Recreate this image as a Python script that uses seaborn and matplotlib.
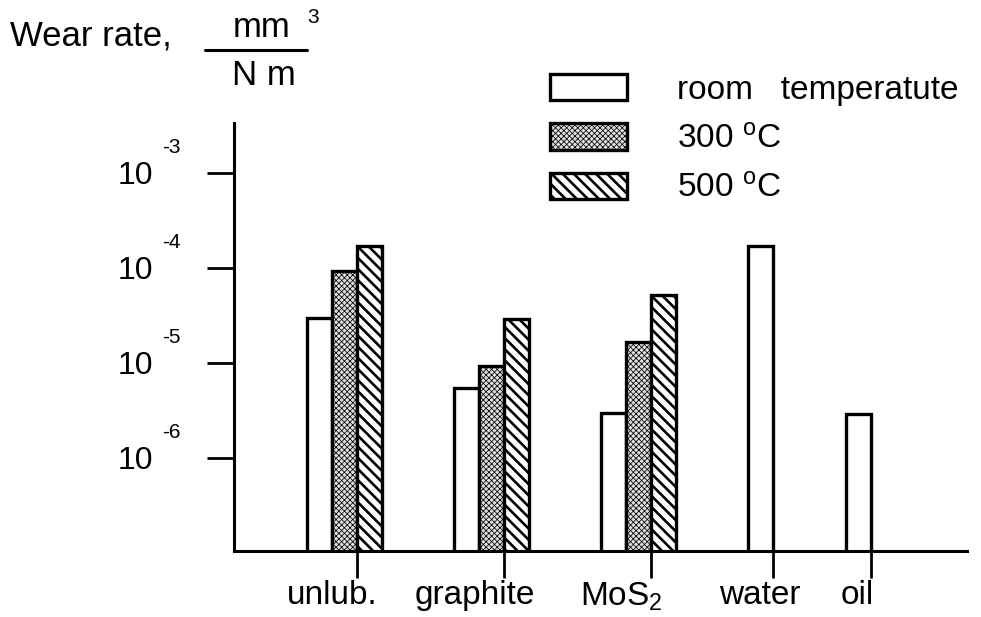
import numpy as np
import pandas as pd
import matplotlib
matplotlib.use("Agg")
import matplotlib.pyplot as plt
from matplotlib.lines import Line2D
from matplotlib.ticker import NullLocator, FixedLocator
import seaborn as sns

# ---------------- data ----------------
categories = ["unlub.", "graphite", "MoS$_2$", "water", "oil"]
temperatures = ["room   temperatute",
                "300 $^{\\mathregular{o}}$C",
                "500 $^{\\mathregular{o}}$C"]
rate_room = [3.0e-5, 5.4e-6, 3.0e-6, 1.7e-4, 2.9e-6]   # all five lubricants
rate_300 = [9.3e-5, 9.3e-6, 1.65e-5]                   # unlub., graphite, MoS2
rate_500 = [1.7e-4, 2.9e-5, 5.2e-5]                    # unlub., graphite, MoS2
ytick_exponents = [-3, -4, -5, -6]
ytick_labels = ["10", "10", "10", "10"]

# ---------------- layout (not data) ----------------
group_pos = [0, 3, 6, 9, 11]
tick_offset = [0.255, 0.255, 0.255, -0.255, -0.255]
label_offset = [-0.26, -0.34, -0.36, -0.53, -0.53]

rows = []
for i, v in enumerate(rate_room):
    rows.append(dict(pos=group_pos[i], temp=temperatures[0], rate=v))
for i, v in enumerate(rate_300):
    rows.append(dict(pos=group_pos[i], temp=temperatures[1], rate=v))
for i, v in enumerate(rate_500):
    rows.append(dict(pos=group_pos[i], temp=temperatures[2], rate=v))
df = pd.DataFrame(rows)

sns.set_style("ticks")
plt.rcParams["font.family"] = ["Liberation Sans", "DejaVu Sans"]
plt.rcParams["mathtext.fontset"] = "custom"
plt.rcParams["mathtext.rm"] = "Liberation Sans"
plt.rcParams["mathtext.it"] = "Liberation Sans:italic"
plt.rcParams["mathtext.bf"] = "Liberation Sans:bold"
plt.rcParams["hatch.linewidth"] = 1.6
plt.rcParams["hatch.color"] = "black"
for k in ["text.color", "axes.labelcolor", "xtick.color", "ytick.color",
          "axes.edgecolor", "xtick.labelcolor", "ytick.labelcolor"]:
    plt.rcParams[k] = "black"

W, H = 981, 617
fig = plt.figure(figsize=(W / 100, H / 100), dpi=100)
ax = fig.add_axes([234 / W, 1 - 551 / H, (967 - 234) / W, (551 - 123) / H])
ax.set_yscale("log")

pal = {temperatures[0]: "white", temperatures[1]: "#e0e0e0", temperatures[2]: "white"}
sns.barplot(data=df, x="pos", y="rate", hue="temp", hue_order=temperatures,
            native_scale=True, width=75 / 98, dodge=True, palette=pal,
            edgecolor="black", linewidth=2.4, saturation=1, errorbar=None,
            legend=False, ax=ax)

hatches = ["", "xxxxxx", "\\\\\\"]
hlw = [1.0, 0.55, 1.9]


def style_patch(p, h, lw):
    p.set_hatch(h)
    try:
        p.set_hatch_linewidth(lw)
    except Exception:
        pass


for cont, h, lw in zip(ax.containers, hatches, hlw):
    for p in cont:
        style_patch(p, h, lw)

# axes limits
ax.set_ylim(10 ** -6.98, 10 ** -2.474)
ax.set_xlim(-2.255, 12.70)

# y ticks
ax.yaxis.set_major_locator(FixedLocator([10.0 ** e for e in ytick_exponents]))
ax.yaxis.set_minor_locator(NullLocator())
ax.set_yticklabels(ytick_labels)
ax.tick_params(axis="y", which="major", length=19.4, width=2.0, pad=39,
               labelsize=23, direction="out")
for e in ytick_exponents:
    ax.annotate(f"{e}", xy=(0, 10.0 ** e), xycoords=("axes fraction", "data"),
                xytext=(-72, 20), textcoords="offset pixels",
                ha="left", va="baseline", fontsize=15)

# x ticks
ax.set_xticks([p + o for p, o in zip(group_pos, tick_offset)])
ax.set_xticklabels([""] * len(categories))
ax.set_xticks([p + o for p, o in zip(group_pos, label_offset)], minor=True)
ax.set_xticklabels(categories, minor=True)
ax.tick_params(axis="x", which="major", length=19.4, width=2.0, direction="out")
ax.tick_params(axis="x", which="minor", length=0, pad=21, labelsize=24)

ax.set_xlabel("")
ax.set_ylabel("")
for s in ["top", "right"]:
    ax.spines[s].set_visible(False)
for s in ["left", "bottom"]:
    ax.spines[s].set_linewidth(2.2)

# legend
leg = ax.legend(ax.containers, temperatures, loc="upper left",
                bbox_to_anchor=(550 / W, 1 - 74 / H), bbox_transform=fig.transFigure,
                frameon=False, borderpad=0, borderaxespad=0,
                handlelength=2.31, handleheight=0.84, handletextpad=1.5,
                labelspacing=0.53, fontsize=24)
for hnd, h, lw in zip(leg.legend_handles, hatches, hlw):
    style_patch(hnd, h, lw)

# y-axis title (top-left)
fig.text(10 / W, 1 - 45 / H, "Wear rate,", fontsize=25, ha="left", va="baseline")
fig.text(262 / W, 1 - 37 / H, "mm", fontsize=25, ha="center", va="baseline")
fig.text(307 / W, 1 - 23 / H, "3", fontsize=15, ha="left", va="baseline")
fig.add_artist(Line2D([205 / W, 307 / W], [1 - 50 / H, 1 - 50 / H], lw=2.2,
                      color="black", transform=fig.transFigure))
fig.text(264 / W, 1 - 85 / H, "N m", fontsize=25, ha="center", va="baseline")

fig.savefig("out.png", dpi=100)
